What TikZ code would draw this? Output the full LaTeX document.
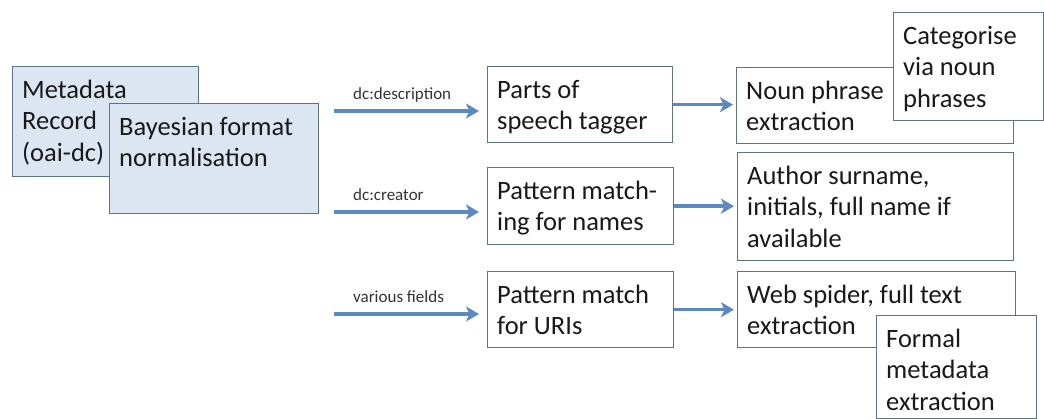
\documentclass[tikz,border=0pt]{standalone}
\usepackage{fontspec}
\setmainfont{Carlito}
\usetikzlibrary{arrows.meta}
\definecolor{boxline}{RGB}{95,115,134}
\definecolor{boxfill}{RGB}{220,230,242}
\definecolor{arrowc}{RGB}{92,138,192}
\tikzset{
  box/.style={draw=boxline, line width=1.4pt, fill=white, anchor=north west, inner sep=0pt},
  bluebox/.style={box, fill=boxfill},
  txt/.style={anchor=north west, inner sep=0pt, align=left, text=black!90,
    font=\fontsize{26.5}{31.5}\selectfont},
  lbl/.style={anchor=mid west, inner sep=0pt, text=black!80, font=\fontsize{17}{20}\selectfont},
  flow/.style={draw=arrowc, line width=3.6pt, -{Stealth[length=13pt,width=15pt,inset=3.5pt]}}
}
\newcommand{\boxtext}[2]{\node[txt] at ([xshift=10pt,yshift=-10pt]#1.north west) {\strut #2};}
\begin{document}
\begin{tikzpicture}[x=1pt,y=-1pt]
\useasboundingbox (0,0) rectangle (1044,419);
% left blue boxes
\node[bluebox, minimum width=186pt, minimum height=110pt] (meta) at (12,66) {};
\boxtext{meta}{Metadata\\Record\\(oai-dc)}
\node[bluebox, minimum width=209pt, minimum height=110pt] (bayes) at (109,103) {};
\boxtext{bayes}{Bayesian format\\normalisation}
% middle column
\node[box, minimum width=185pt, minimum height=76pt] (pos) at (487,66) {};
\boxtext{pos}{Parts of\\speech tagger}
\node[box, minimum width=186pt, minimum height=77pt] (pmn) at (487,167) {};
\boxtext{pmn}{Pattern match-\\ing for names}
\node[box, minimum width=186pt, minimum height=76pt] (pmu) at (487,271) {};
\boxtext{pmu}{Pattern match\\for URIs}
% right column
\node[box, minimum width=277pt, minimum height=76pt] (noun) at (736,67) {};
\boxtext{noun}{Noun phrase\\extraction}
\node[box, minimum width=150pt, minimum height=108pt] (cat) at (893,12) {};
\boxtext{cat}{Categorise\\via noun\\phrases}
\node[box, minimum width=276pt, minimum height=108pt] (auth) at (737,152) {};
\boxtext{auth}{Author surname,\\initials, full name if\\available}
\node[box, minimum width=278pt, minimum height=76pt] (web) at (737,271) {};
\boxtext{web}{Web spider, full text\\extraction}
\node[box, minimum width=160pt, minimum height=103pt] (formal) at (876,315) {};
\boxtext{formal}{Formal\\metadata\\extraction}
% input arrows
\coordinate (in1) at (334,111);
\coordinate (in2) at (334,212);
\coordinate (in3) at (334,314);
\draw[flow, shorten >=8pt] (in1) -- (in1 -| pos.west);
\draw[flow, shorten >=8pt] (in2) -- (in2 -| pmn.west);
\draw[flow, shorten >=8pt] (in3) -- (in3 -| pmu.west);
\node[lbl] (l1) at (353,97) {dc:description};
\node[lbl] (l2) at (353,198) {dc:creator};
\node[lbl] (l3) at (353,300) {various fields};
% middle to right arrows
\draw[flow, shorten >=3pt] (pos.east) -- (pos.east -| noun.west);
\draw[flow, shorten >=3pt] (pmn.east) -- (pmn.east -| auth.west);
\draw[flow, shorten >=3pt] (pmu.east) -- (pmu.east -| web.west);
\end{tikzpicture}
\end{document}
